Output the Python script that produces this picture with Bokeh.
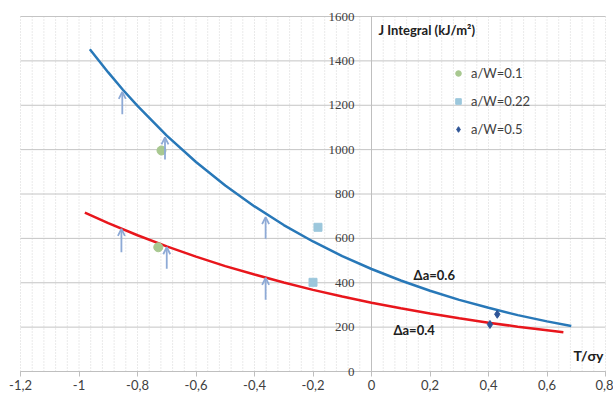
from bokeh.plotting import figure
from bokeh.models import (Range1d, FixedTicker, Legend, LegendItem,
                          Arrow, OpenHead, ColumnDataSource, LabelSet)
from bokeh.core.properties import value
from bokeh.embed import file_html
from bokeh.resources import INLINE

# ---- data ----
x_ticks = [-1.2, -1.0, -0.8, -0.6, -0.4, -0.2, 0.0, 0.2, 0.4, 0.6, 0.8]
x_tick_labels = ["-1,2", "-1", "-0,8", "-0,6", "-0,4", "-0,2", "0", "0,2", "0,4", "0,6", "0,8"]
x_minor = [round(-1.2 + 0.04 * i, 2) for i in range(51)]
y_ticks = [0, 200, 400, 600, 800, 1000, 1200, 1400, 1600]
y_tick_labels = ["0", "200", "400", "600", "800", "1000", "1200", "1400", "1600"]
x_min, x_max = -1.2, 0.8
y_min, y_max = 0, 1600

# trend curve da=0.6 (blue)
blue_x = [-0.963, -0.9, -0.85, -0.8, -0.7, -0.6, -0.5, -0.4, -0.3, -0.2, -0.1,
          0.0, 0.1, 0.2, 0.3, 0.4, 0.5, 0.6, 0.683]
blue_y = [1452, 1348, 1270, 1197, 1063, 944, 838, 744, 660, 586, 520,
          462, 410, 364, 323, 287, 254, 226, 205]
# trend curve da=0.4 (red)
red_x = [-0.98, -0.9, -0.8, -0.7, -0.6, -0.5, -0.4, -0.3, -0.2, -0.1,
         0.0, 0.1, 0.2, 0.3, 0.4, 0.5, 0.6, 0.656]
red_y = [716, 669, 614, 564, 518, 475, 437, 401, 368, 338,
         310, 285, 261, 240, 220, 202, 186, 177]

# measured points
aw01_x = [-0.718, -0.729]
aw01_y = [996, 560]
aw022_x = [-0.183, -0.20]
aw022_y = [650, 402]
aw05_x = [0.405, 0.43]
aw05_y = [212, 258]

# arrows
arrow_x = [-0.852, -0.706, -0.362, -0.855, -0.700, -0.362]
arrow_y0 = [1160, 955, 598, 538, 463, 323]
arrow_y1 = [1260, 1055, 696, 643, 560, 422]

FONT = "Lato"
TXT = "#404040"

# frame fills the whole window; ranges padded so that axis texts stay inside it
W, H = 613, 402
left_px, right_px, top_px, bottom_px = 20, 605, 16, 371
sx = (right_px - left_px) / (x_max - x_min)
sy = (bottom_px - top_px) / (y_max - y_min)
xr = Range1d(x_min - left_px / sx, x_max + (W - right_px) / sx)
yr = Range1d(y_min - (H - bottom_px) / sy, y_max + top_px / sy)

p = figure(frame_width=W, frame_height=H, x_range=xr, y_range=yr,
           output_backend="svg", toolbar_location=None,
           min_border_left=0, min_border_right=0, min_border_top=0, min_border_bottom=0)
p.outline_line_color = None
p.background_fill_color = "white"

# axes
p.yaxis.visible = False
p.xgrid.visible = False
p.xaxis.fixed_location = 0
p.xaxis.ticker = FixedTicker(ticks=x_ticks)
p.xaxis.major_label_overrides = {t: l for t, l in zip(x_ticks, x_tick_labels)}
p.xaxis.axis_line_color = None
p.xaxis.major_tick_line_color = "#bfbfbf"
p.xaxis.major_tick_out = 5
p.xaxis.major_tick_in = 0
p.xaxis.minor_tick_line_color = None
p.xaxis.major_label_text_font = FONT
p.xaxis.major_label_text_font_size = "13px"
p.xaxis.major_label_text_color = TXT
p.xaxis.major_label_standoff = 3

# vertical dotted grid (0 .. 1600 only)
p.segment(x0=x_minor, y0=[y_min] * len(x_minor), x1=x_minor, y1=[y_max] * len(x_minor),
          line_color="#d4d4d4", line_dash="1 2", line_width=1)
# horizontal grid (segments over the data area only)
p.ygrid.visible = False
p.segment(x0=[x_min] * len(y_ticks), y0=y_ticks, x1=[x_max] * len(y_ticks), y1=y_ticks,
          line_color="#c4c4c4", line_width=1)
# x axis line and y axis at x=0
p.segment(x0=[x_min], y0=[0], x1=[x_max], y1=[0], line_color="#bfbfbf", line_width=1)
p.segment(x0=[0], y0=[y_min], x1=[0], y1=[y_max], line_color="#bfbfbf", line_width=1)
ysrc = ColumnDataSource(dict(x=[0] * len(y_ticks), y=y_ticks, t=y_tick_labels))
p.add_layout(LabelSet(source=ysrc, x="x", y="y", text="t", x_offset=-17,
                      text_align="right", text_baseline="middle", text_font=FONT,
                      text_font_size="13px", text_color=TXT))

# curves
p.line(blue_x, blue_y, line_color="#2878b8", line_width=2.5)
p.line(red_x, red_y, line_color="#e8161c", line_width=2.5)

# points
r1 = p.scatter(aw01_x, aw01_y, marker="circle", size=9, fill_color="#a8c890", line_color="#a8c890")
r2 = p.scatter(aw022_x, aw022_y, marker="square", size=8, fill_color="#9cc7dc", line_color="#9cc7dc")
r3 = p.scatter(aw05_x, aw05_y, marker="diamond", size=8, fill_color="#2f5597", line_color="#2f5597")

# arrows
asrc = ColumnDataSource(dict(x0=arrow_x, y0=arrow_y0, x1=arrow_x, y1=arrow_y1))
p.add_layout(Arrow(source=asrc, x_start="x0", y_start="y0", x_end="x1", y_end="y1",
                   line_color="#8eaad6", line_width=1.8,
                   end=OpenHead(size=7, line_color="#8eaad6", line_width=1.8)))

# texts
p.text(x=[0.024], y=[1541], text=["J Integral (kJ/m²)"], text_align="left", text_baseline="middle",
       text_font=value(FONT), text_font_size="13px", text_font_style="bold", text_color="#202020")
p.text(x=[0.793], y=[72], text=["T/σy"], text_align="right", text_baseline="middle",
       text_font=value(FONT), text_font_size="14px", text_font_style="bold", text_color="#202020")
p.text(x=[0.144], y=[433], text=["Δa=0.6"], text_align="left", text_baseline="middle",
       text_font=value(FONT), text_font_size="13px", text_font_style="bold", text_color="#202020")
p.text(x=[0.075], y=[185], text=["Δa=0.4"], text_align="left", text_baseline="middle",
       text_font=value(FONT), text_font_size="13px", text_font_style="bold", text_color="#202020")

# legend
legend = Legend(items=[LegendItem(label="a/W=0.1", renderers=[r1]),
                       LegendItem(label="a/W=0.22", renderers=[r2]),
                       LegendItem(label="a/W=0.5", renderers=[r3])],
                location=(450, 265), border_line_alpha=0, background_fill_alpha=0,
                label_text_font=FONT, label_text_font_size="13px", label_text_color=TXT,
                glyph_width=16, glyph_height=14, label_height=14, spacing=12,
                padding=0, margin=0, label_standoff=5)
p.add_layout(legend)

open("out.html", "w").write(file_html(p, INLINE))
